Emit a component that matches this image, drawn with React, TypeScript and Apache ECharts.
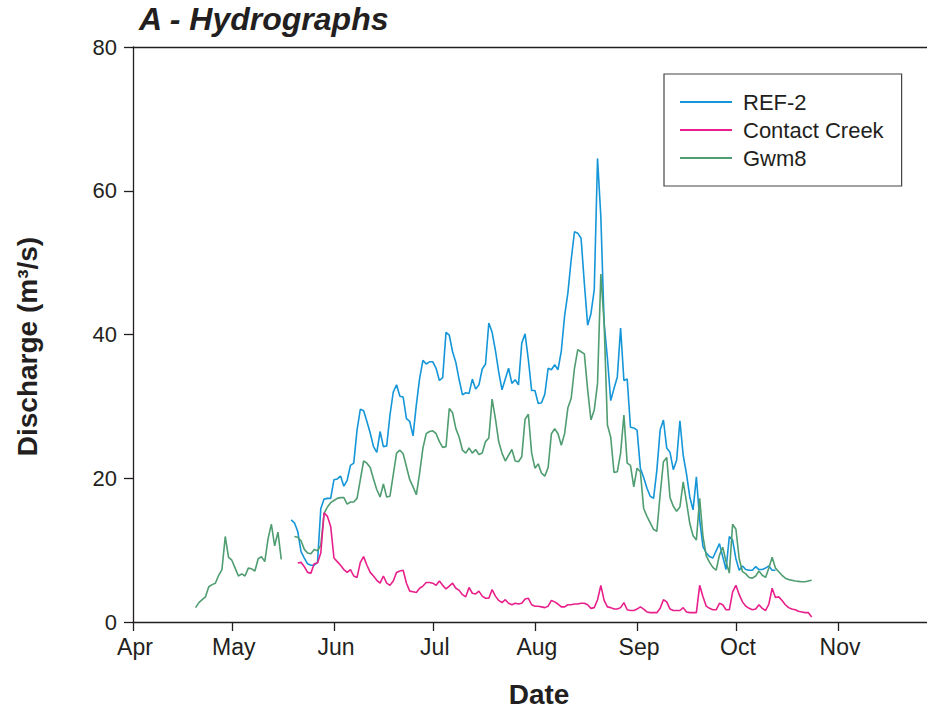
import React, { useEffect, useRef } from 'react';
import * as echarts from 'echarts';

// Day index counted from April 1 (day 0)
const monthStartDays = [0, 30, 61, 91, 122, 153, 183, 214];
const monthLabels = ['Apr', 'May', 'Jun', 'Jul', 'Aug', 'Sep', 'Oct', 'Nov'];
const yTickValues = [0, 20, 40, 60, 80];

const ref2Start = 48;
const ref2Values = [
  14.2, 13.8, 12.6, 9.8, 8.9, 8.1, 7.9, 7.9, 8.3, 15.8, 17.1, 17.2, 17.2, 19.8, 19.9, 20.3, 18.9, 19.7, 21.8, 22.1,
  26.7, 29.6, 29.4, 27.9, 26.3, 24.4, 23.6, 26.5, 24.4, 24.5, 28.8, 32.0, 33.0, 31.4, 31.3, 28.3, 27.9, 25.9, 30.2, 33.9,
  36.4, 35.9, 36.2, 36.2, 35.3, 33.6, 34.0, 40.3, 39.9, 37.6, 36.1, 33.7, 31.6, 31.9, 31.8, 33.8, 32.4, 33.0, 35.2, 35.9,
  41.6, 40.3, 37.8, 34.8, 32.3, 33.8, 35.3, 33.2, 33.7, 33.0, 38.8, 40.1, 36.5, 32.2, 32.2, 30.4, 30.5, 31.7, 35.3, 35.1,
  35.8, 35.1, 37.7, 42.6, 45.8, 50.4, 54.3, 54.1, 53.4, 47.1, 41.3, 42.9, 46.2, 64.5, 56.4, 41.6, 36.7, 30.8, 32.5, 34.1,
  40.9, 33.6, 33.8, 27.1, 27.0, 26.7, 21.4, 20.1, 18.6, 17.5, 17.2, 21.1, 26.7, 28.1, 24.2, 23.6, 21.2, 22.5, 28.0, 23.2,
  20.6, 17.4, 15.6, 20.2, 14.2, 10.5, 9.6, 9.1, 8.9, 9.9, 10.9, 9.1, 7.3, 11.9, 11.4, 8.8, 7.2, 7.8, 7.3, 7.2,
  7.2, 7.7, 7.3, 7.3, 7.5, 7.8, 7.2, 7.2,
];

const contactStart = 50;
const contactValues = [
  8.2, 8.3, 7.7, 6.9, 6.8, 8.1, 8.2, 9.6, 15.2, 14.7, 13.3, 8.9, 8.4, 7.9, 7.3, 6.9, 7.3, 6.4, 6.2, 8.3,
  9.1, 7.9, 6.9, 6.4, 5.8, 5.4, 6.4, 5.4, 5.1, 5.7, 6.9, 7.1, 7.2, 5.4, 4.3, 4.2, 4.1, 4.7, 5.0, 5.5,
  5.5, 5.4, 5.1, 5.7, 5.1, 4.6, 5.0, 5.4, 4.7, 4.4, 3.8, 3.5, 4.8, 4.0, 3.9, 4.3, 3.6, 3.3, 3.3, 4.5,
  3.6, 3.0, 2.7, 3.1, 2.6, 2.4, 2.6, 2.5, 2.6, 3.2, 3.3, 2.4, 2.2, 2.2, 2.1, 2.0, 2.2, 3.0, 2.8, 2.5,
  2.1, 2.1, 2.4, 2.4, 2.5, 2.5, 2.6, 2.6, 2.4, 1.9, 2.0, 3.1, 5.1, 3.0, 2.1, 2.0, 1.8, 1.8, 2.0, 2.7,
  1.7, 1.6, 1.6, 1.8, 2.1, 1.8, 1.4, 1.3, 1.3, 1.3, 1.9, 3.1, 2.8, 1.8, 1.6, 1.6, 1.6, 2.0, 1.4, 1.3,
  1.3, 1.3, 5.1, 3.5, 2.2, 1.9, 1.7, 1.7, 2.6, 2.4, 1.7, 1.7, 4.2, 5.1, 3.8, 2.8, 2.2, 1.9, 1.7, 1.8,
  2.4, 1.9, 1.6, 2.5, 4.7, 3.4, 3.5, 3.0, 2.4, 2.0, 1.8, 1.7, 1.5, 1.4, 1.3, 1.3, 0.7,
];

const gwm8Start = 19;
const gwm8Values: (number | null)[] = [
  2.0, 2.7, 3.1, 3.5, 4.9, 5.2, 5.4, 6.5, 7.3, 11.9, 9.0, 8.6, 7.5, 6.4, 6.7, 6.4, 7.5, 7.4, 7.1, 8.8,
  9.1, 8.4, 11.6, 13.6, 10.6, 12.5, 8.7, null, null, null, 11.9, 11.8, 11.3, 10.1, 9.6, 9.5, 10.1, 9.9, 10.7, 15.1,
  16.0, 16.6, 16.9, 17.2, 17.3, 17.3, 16.4, 16.7, 16.7, 17.2, 19.8, 22.4, 22.1, 21.5, 19.9, 18.4, 17.4, 19.2, 17.4, 17.5,
  20.5, 23.5, 23.9, 23.4, 21.6, 19.8, 18.8, 17.7, 20.7, 24.2, 26.2, 26.5, 26.6, 26.2, 25.1, 24.3, 24.4, 29.7, 29.1, 26.9,
  25.7, 23.9, 23.5, 24.2, 23.5, 24.0, 23.3, 23.5, 25.1, 25.6, 31.0, 28.3, 25.1, 23.5, 22.4, 23.2, 24.0, 22.4, 22.3, 23.0,
  28.2, 28.9, 23.5, 21.4, 22.0, 20.7, 20.3, 21.5, 26.2, 26.9, 26.2, 24.6, 26.2, 29.8, 31.1, 35.3, 37.9, 37.6, 37.3, 32.3,
  28.1, 29.5, 33.2, 48.4, 41.6, 27.4, 25.7, 20.8, 20.9, 23.5, 28.8, 22.1, 21.8, 18.8, 21.4, 20.9, 15.8, 14.7, 13.8, 12.9,
  12.6, 17.7, 22.3, 22.9, 17.3, 16.1, 15.4, 16.0, 19.5, 16.7, 13.7, 12.0, 11.4, 17.2, 11.9, 9.2, 8.3, 7.6, 7.2, 9.3,
  10.4, 8.4, 6.8, 13.6, 12.9, 8.8, 7.0, 6.7, 6.2, 6.1, 6.4, 7.1, 6.5, 6.2, 7.5, 9.0, 7.5, 7.0, 6.5, 6.1,
  5.9, 5.8, 5.7, 5.65, 5.6, 5.6, 5.7, 5.8,
];

const seriesNames = ['REF-2', 'Contact Creek', 'Gwm8'];
const seriesColors = ['#1496d8', '#e8208c', '#4f9d70'];

const FONT = '"Liberation Sans", Arial, Helvetica, sans-serif';
const INK = '#231f20';

function toPairs(start: number, values: (number | null)[]) {
  return values.map((v, i) => [start + i, v === null ? '-' : v]);
}

export default function App() {
  const ref = useRef<HTMLDivElement>(null);

  useEffect(() => {
    if (!ref.current) return;
    const chart = echarts.init(ref.current, null, { renderer: 'svg' });
    const datasets = [
      toPairs(ref2Start, ref2Values),
      toPairs(contactStart, contactValues),
      toPairs(gwm8Start, gwm8Values),
    ];
    chart.setOption({
      animation: false,
      backgroundColor: '#ffffff',
      textStyle: { fontFamily: FONT, color: INK },
      title: {
        text: 'A - Hydrographs',
        left: 139,
        top: 3,
        padding: 0,
        textStyle: { fontFamily: FONT, fontSize: 32, fontWeight: 'bold', fontStyle: 'italic', color: INK },
      },
      legend: {
        orient: 'vertical',
        left: 664,
        top: 74,
        padding: [17, 18, 17, 16],
        itemGap: 6,
        itemWidth: 52,
        itemHeight: 2,
        icon: 'rect',
        borderColor: '#444',
        borderWidth: 1.2,
        borderRadius: 0,
        data: seriesNames,
        textStyle: { fontFamily: FONT, fontSize: 22, color: INK, lineHeight: 22, padding: [0, 0, 0, 6] },
      },
      grid: {
        left: 133,
        top: 47,
        right: 0,
        bottom: 91,
        show: false,
        containLabel: false,
      },
      xAxis: [
        {
          type: 'value',
          min: 0,
          max: 241,
          name: 'Date',
          nameLocation: 'middle',
          nameGap: 58,
          nameTextStyle: { fontFamily: FONT, fontSize: 28, fontWeight: 'bold', color: INK, padding: [0, 0, 0, 18] },
          axisLine: { show: true, lineStyle: { color: INK, width: 1.3 } },
          axisTick: { show: true, length: 9, inside: false, customValues: monthStartDays, lineStyle: { color: INK, width: 1.3 } },
          axisLabel: {
            customValues: monthStartDays,
            margin: 13,
            fontFamily: FONT,
            fontSize: 23,
            color: INK,
            padding: [0, 0, 0, 4],
            formatter: (v: number) => {
              const i = monthStartDays.indexOf(Math.round(v));
              return i >= 0 ? monthLabels[i] : '';
            },
          },
          splitLine: { show: false },
        },
        {
          type: 'value',
          position: 'top',
          min: 0,
          max: 241,
          axisLine: { show: true, onZero: false, lineStyle: { color: INK, width: 1.3 } },
          axisTick: { show: false },
          axisLabel: { show: false },
          splitLine: { show: false },
        },
      ],
      yAxis: {
        type: 'value',
        min: 0,
        max: 80,
        interval: 20,
        name: 'Discharge (m³/s)',
        nameLocation: 'middle',
        nameGap: 92,
        nameRotate: 90,
        nameTextStyle: { fontFamily: FONT, fontSize: 28, fontWeight: 'bold', color: INK, padding: [0, 24, 0, 0] },
        axisLine: { show: true, lineStyle: { color: INK, width: 1.3 } },
        axisTick: { show: true, length: 9, inside: false, customValues: yTickValues, lineStyle: { color: INK, width: 1.3 } },
        axisLabel: { customValues: yTickValues, margin: 16, fontFamily: FONT, fontSize: 22, color: INK },
        splitLine: { show: false },
      },
      series: seriesNames.map((name, i) => ({
        name,
        type: 'line',
        xAxisIndex: 0,
        data: datasets[i],
        symbol: 'none',
        showSymbol: false,
        connectNulls: false,
        color: seriesColors[i],
        lineStyle: { color: seriesColors[i], width: 1.6 },
        z: i === 1 ? 3 : 2,
      })),
    });
    return () => chart.dispose();
  }, []);

  return <div ref={ref} style={{ position: 'absolute', left: 0, top: 0, width: 927, height: 713 }} />;
}
